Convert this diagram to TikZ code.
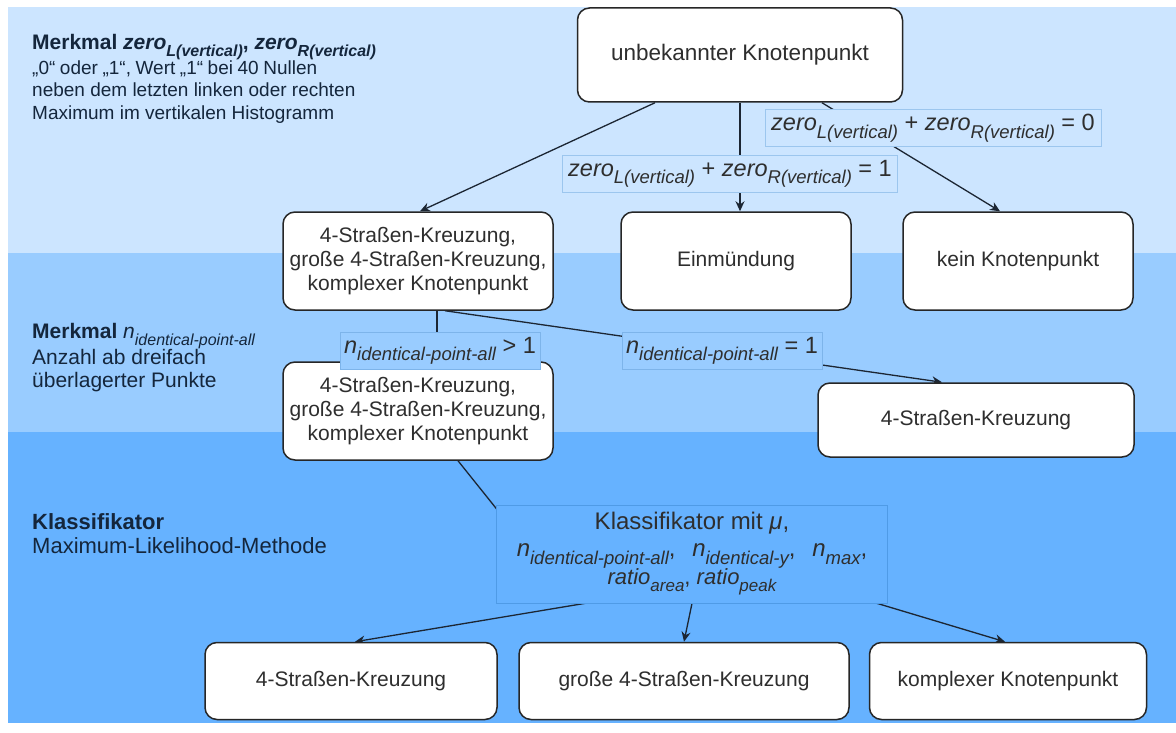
\documentclass[tikz,border=0pt]{standalone}
\usepackage{fontspec}
\setmainfont{Liberation Sans}
\usetikzlibrary{arrows.meta,calc}
\definecolor{bandA}{HTML}{CCE5FF}
\definecolor{bandB}{HTML}{99CCFF}
\definecolor{bandC}{HTML}{66B2FF}
\definecolor{edgeA}{HTML}{9CC6EE}
\definecolor{edgeB}{HTML}{7DB4EA}
\definecolor{edgeC}{HTML}{4F9BE6}
\definecolor{lineC}{HTML}{1C2633}
\definecolor{txtC}{HTML}{2E2E2E}
\definecolor{descC}{HTML}{14263C}
\newcommand\lsub[1]{\raisebox{-0.32em}{\fontsize{18.5}{18.5}\selectfont\itshape #1}}
\newcommand\ssub[1]{\raisebox{-0.32em}{\fontsize{17}{17}\selectfont\itshape #1}}
\newcommand\bsub[1]{\raisebox{-0.32em}{\fontsize{16}{16}\selectfont\itshape #1}}
\pgfdeclarelayer{bands}\pgfdeclarelayer{edges}
\pgfsetlayers{bands,edges,main}
\tikzset{
  box/.style={draw=black!85, line width=1.5pt, fill=white, rounded corners=12pt,
    align=center, text=txtC, font=\fontsize{21}{24}\selectfont, inner sep=3pt},
  lblA/.style={draw=edgeA, line width=0.7pt, fill=bandA, text=txtC,
    font=\fontsize{23.5}{27}\selectfont, inner sep=2pt, align=center},
  lblB/.style={lblA, draw=edgeB, fill=bandB},
  lblC/.style={lblA, draw=edgeC, fill=bandC},
  desc/.style={anchor=north west, align=left, text=descC, inner sep=0pt},
  conn/.style={draw=lineC, line width=1.3pt},
  arr/.style={conn, -{Stealth[length=10pt,width=9pt]}},
}
\begin{document}
\begin{tikzpicture}[x=1pt,y=-1pt]
\useasboundingbox (0,0) rectangle (1176,733);
\begin{pgfonlayer}{bands}
\fill[white] (0,0) rectangle (1176,733);
\fill[bandA] (8,7) rectangle (1176,253);
\fill[bandB] (8,253) rectangle (1176,432);
\fill[bandC] (8,432) rectangle (1176,723);
\end{pgfonlayer}

% descriptions
\node[desc, font=\fontsize{19}{22.5}\selectfont] (t1) at (32,34) {{\fontsize{21}{22.5}\selectfont\textbf{Merkmal \textit{zero}\bsub{\bfseries L(vertical)}, \textit{zero}\bsub{\bfseries R(vertical)}}}\\
{\spaceskip=0.24em plus 0.1em „0“ oder „1“, Wert „1“ bei 40 Nullen}\\
neben dem letzten linken oder rechten\\
Maximum im vertikalen Histogramm};
\node[desc, font=\fontsize{21}{23}\selectfont] (t2) at (32,323) {\textbf{Merkmal} \textit{n}\bsub{identical-point-all}\\
Anzahl ab dreifach\\
überlagerter Punkte};
\node[desc, font=\fontsize{22}{24}\selectfont] (t3) at (32,513) {\textbf{Klassifikator}\\
Maximum-Likelihood-Methode};

% boxes
\node[box, minimum width=325pt, minimum height=94pt, font=\fontsize{22.5}{24}\selectfont] (U) at (740,55) {unbekannter Knotenpunkt};
\node[box, minimum width=270pt, minimum height=98pt] (A) at (418,261) {4-Straßen-Kreuzung,\\große 4-Straßen-Kreuzung,\\komplexer Knotenpunkt};
\node[box, minimum width=230pt, minimum height=98pt] (E) at (736,261) {Einmündung};
\node[box, minimum width=230pt, minimum height=98pt] (K) at (1018,261) {kein Knotenpunkt};
\node[box, minimum width=270pt, minimum height=98pt] (B) at (418,411) {4-Straßen-Kreuzung,\\große 4-Straßen-Kreuzung,\\komplexer Knotenpunkt};
\node[box, minimum width=316pt, minimum height=74pt] (R) at (976,420) {4-Straßen-Kreuzung};
\node[box, minimum width=292pt, minimum height=77pt] (B1) at (351,681) {4-Straßen-Kreuzung};
\node[box, minimum width=330pt, minimum height=77pt] (B2) at (684,681) {große 4-Straßen-Kreuzung};
\node[box, minimum width=277pt, minimum height=77pt] (B3) at (1008,681) {komplexer Knotenpunkt};

% labels
\node[lblA, minimum width=335pt, minimum height=37pt] (L1) at (730,174) {\textit{zero}\lsub{L(vertical)} + \textit{zero}\lsub{R(vertical)} = 1};
\node[lblA, minimum width=336pt, minimum height=37pt] (L0) at (933,128) {\textit{zero}\lsub{L(vertical)} + \textit{zero}\lsub{R(vertical)} = 0};
\node[lblB, minimum width=200pt, minimum height=37pt] (N1) at (440,351) {\textit{n}\lsub{identical-point-all} > 1};
\node[lblB, minimum width=200pt, minimum height=37pt] (N2) at (722,351) {\textit{n}\lsub{identical-point-all} = 1};
\node[lblC, minimum width=391pt, minimum height=98pt, font=\fontsize{24}{26.5}\selectfont] (LK) at (692,554) {Klassifikator mit \textit{μ},\\
\textit{n}\lsub{identical-point-all},\hspace{10pt} \textit{n}\lsub{identical-y},\hspace{10pt} \textit{n}\lsub{max},\\
{\fontsize{22}{26.5}\selectfont\textit{ratio}\ssub{area}, \textit{ratio}\ssub{peak}}};

\coordinate (bk) at ($(LK.south west)+(60,-20)$);
\begin{pgfonlayer}{edges}
\draw[arr] ([xshift=-85pt]U.south) -- ([xshift=2pt]A.north);
\draw[arr] (U.south) -- ([xshift=4pt]E.north);
\draw[arr] ([xshift=82pt]U.south) -- ([xshift=-18pt]K.north);
\draw[arr] ([xshift=19pt]A.south) -- ([xshift=19pt]B.north);
\draw[arr] ([xshift=27pt]A.south) -- ([xshift=-34pt]R.north);
\draw[conn] ([xshift=40pt]B.south) -- (bk);
\draw[arr] ([xshift=-107pt]LK.south) -- ([xshift=4pt]B1.north);
\draw[arr] (LK.south) -- (B2.north);
\draw[arr] ([xshift=185pt]LK.south) -- ([xshift=-3pt]B3.north);
\end{pgfonlayer}
\end{tikzpicture}
\end{document}
